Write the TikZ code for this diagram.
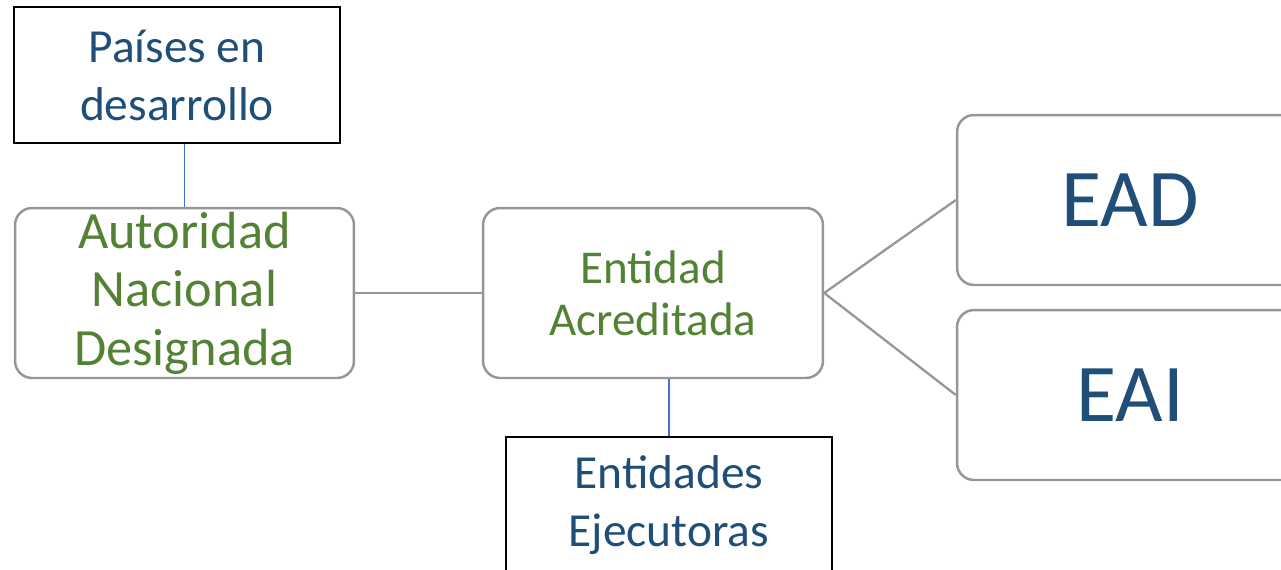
\documentclass[tikz,border=0pt]{standalone}
\usepackage{fontspec}
\setmainfont{Carlito}
\definecolor{azul}{RGB}{31,78,121}
\definecolor{verde}{RGB}{84,130,53}
\definecolor{gris}{RGB}{150,150,150}
\definecolor{linea}{RGB}{68,114,196}

\begin{document}
\begin{tikzpicture}[x=0.02cm,y=-0.02cm,
    caja/.style={draw=black,line width=1.1pt,fill=white,inner sep=0pt,
        minimum width=6.52cm,minimum height=2.72cm,align=center,text=azul,
        font=\fontsize{27}{33}\selectfont},
    bloque/.style={draw=gris,line width=1.4pt,fill=white,inner sep=0pt,
        rounded corners=0.34cm,minimum height=3.4cm,align=center}]
    \clip (0,0) rectangle (1281,569);
    \node[caja] (paises) at (177,75) {Países en\\desarrollo};
    \node[bloque,minimum width=6.78cm,text=verde,font=\fontsize{29.8}{33.3}\selectfont]
        (adn) at (184.5,293) {Autoridad\\Nacional\\Designada};
    \node[bloque,minimum width=6.8cm,text=verde,font=\fontsize{26.8}{29.6}\selectfont]
        (ea) at (653,293) {Entidad\\Acreditada};
    \node[bloque,minimum width=6.92cm,text=azul,font=\fontsize{46.7}{56}\selectfont]
        (ead) at (1130,200) {EAD};
    \node[bloque,minimum width=6.92cm,text=azul,font=\fontsize{46.7}{56}\selectfont]
        (eai) at (1130,395) {EAI};
    \node[caja] (ee) at (669,505) {Entidades\\Ejecutoras};
    \draw[linea,line width=0.6pt] (adn.north) -- (adn.north |- paises.south);
    \draw[linea,line width=0.6pt] (ee.north) -- (ee.north |- ea.south);
    \draw[gris,line width=1.3pt] (adn.east) -- (ea.west);
    \draw[gris,line width=1.3pt] (ea.east) -- (ead.west);
    \draw[gris,line width=1.3pt] (ea.east) -- (eai.west);
\end{tikzpicture}
\end{document}
